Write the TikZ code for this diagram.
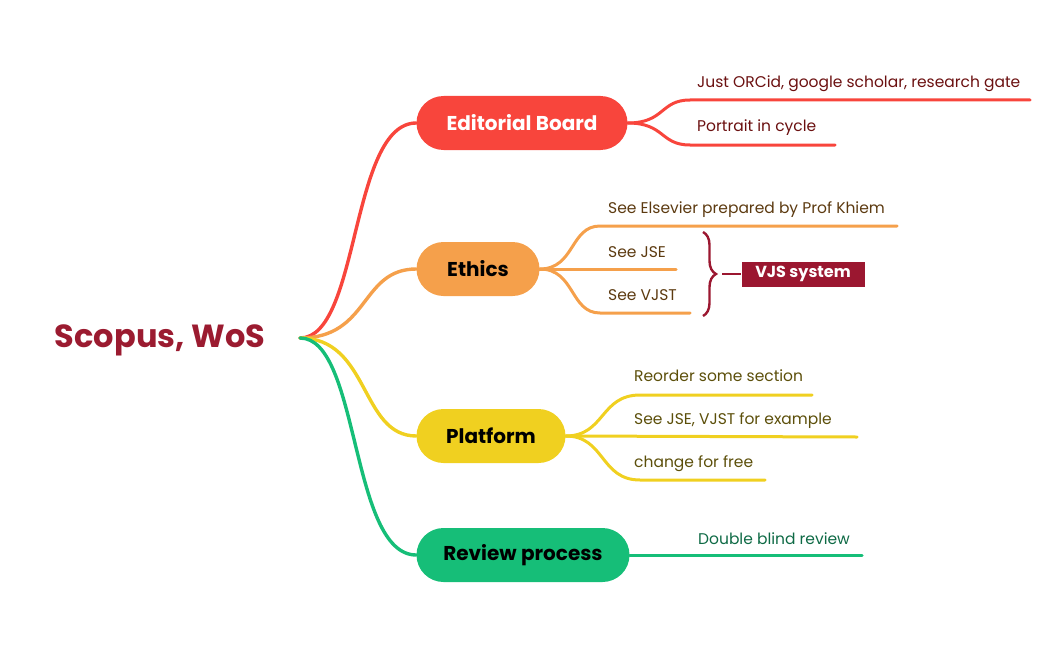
\documentclass[tikz,border=0pt]{standalone}
\usepackage{fontspec}
\setmainfont{Poppins}
\usetikzlibrary{decorations.pathreplacing}
\definecolor{rootc}{HTML}{9B1B30}
\definecolor{redc}{HTML}{F8453C}
\definecolor{orc}{HTML}{F5A04B}
\definecolor{yelc}{HTML}{F0D020}
\definecolor{grc}{HTML}{16BE78}
\definecolor{redt}{HTML}{6B1010}
\definecolor{ort}{HTML}{5C3A10}
\definecolor{yelt}{HTML}{5C4F0A}
\definecolor{grt}{HTML}{0E6A45}
\definecolor{vjs}{HTML}{9B1730}
\tikzset{
  pill/.style={rounded corners=27pt, minimum height=54pt, inner sep=0pt, font=\fontsize{20}{24}\selectfont\bfseries},
  branch/.style={line width=3.4pt, line cap=round},
  sub/.style={line width=3pt, line cap=round},
  leaf/.style={anchor=base west, inner sep=0pt, font=\fontsize{15.5}{18}\selectfont},
}
\begin{document}
\begin{tikzpicture}[x=1pt,y=-1pt]
\useasboundingbox (0,0) rectangle (1048,650);
% root
\node[text=rootc, font=\fontsize{32}{38}\selectfont\bfseries] (root) at (160,340) {Scopus, WoS};
\coordinate (r) at (300,338);
% main nodes
\node[pill, fill=redc, text=white, minimum width=211pt] (eb) at (522,123) {Editorial Board};
\node[pill, fill=orc, text=black, minimum width=123pt] (et) at (478,269) {Ethics};
\node[pill, fill=yelc, text=black, minimum width=149pt] (pf) at (491,436) {Platform};
\node[pill, fill=grc, text=black, minimum width=213pt] (rp) at (523,555) {Review process};
% branches
\draw[branch, redc] (r) .. controls (360,338) and (350,123) .. (eb.west);
\draw[branch, orc] (r) .. controls (370,338) and (360,269) .. (et.west);
\draw[branch, yelc] (r) .. controls (370,338) and (360,436) .. (pf.west);
\draw[branch, grc] (r) .. controls (360,338) and (350,555) .. (rp.west);
% editorial children
\coordinate (e1) at (690,100); \coordinate (e1e) at (1030,100);
\coordinate (e2) at (690,145); \coordinate (e2e) at (835,145);
\draw[sub, redc] (eb.east) .. controls (665,123) and (660,100) .. (e1) -- (e1e);
\draw[sub, redc] (eb.east) .. controls (665,123) and (660,145) .. (e2) -- (e2e);
\node[leaf, text=redt] (t1) at (697,88) {Just ORCid, google scholar, research gate};
\node[leaf, text=redt] (t2) at (697,131) {Portrait in cycle};
% ethics children
\coordinate (o1) at (600,226); \coordinate (o1e) at (897,226);
\coordinate (o2) at (600,269); \coordinate (o2e) at (676,269);
\coordinate (o3) at (600,313); \coordinate (o3e) at (690,313);
\draw[sub, orc] (et.east) .. controls (575,269) and (570,226) .. (o1) -- (o1e);
\draw[sub, orc] (et.east) -- (o2e);
\draw[sub, orc] (et.east) .. controls (575,269) and (570,313) .. (o3) -- (o3e);
\node[leaf, text=ort] (t3) at (608,213) {See Elsevier prepared by Prof Khiem};
\node[leaf, text=ort] (t4) at (608,257) {See JSE};
\node[leaf, text=ort] (t5) at (608,300) {See VJST};
\coordinate (b1) at (703,232); \coordinate (b2) at (703,316);
\draw[vjs, line width=2.4pt, decorate, decoration={brace, amplitude=13pt, aspect=0.5}] (b1) -- (b2);
\node[fill=vjs, text=white, font=\fontsize{16}{19}\selectfont\bfseries, minimum width=123pt, minimum height=25pt, inner sep=0pt] (vs) at (803,274) {VJS system};
\draw[vjs, line width=2.4pt] (722,274) -- (vs.west);
% platform children
\coordinate (p1) at (640,395); \coordinate (p1e) at (812,395);
\coordinate (p2) at (640,437); \coordinate (p2e) at (857,437);
\coordinate (p3) at (640,480); \coordinate (p3e) at (765,480);
\draw[sub, yelc] (pf.east) .. controls (605,436) and (600,395) .. (p1) -- (p1e);
\draw[sub, yelc] (pf.east) -- (p2e);
\draw[sub, yelc] (pf.east) .. controls (605,436) and (600,480) .. (p3) -- (p3e);
\node[leaf, text=yelt] (t6) at (634,381) {Reorder some section};
\node[leaf, text=yelt] (t7) at (634,424) {See JSE, VJST for example};
\node[leaf, text=yelt] (t8) at (634,467) {change for free};
% review child
\coordinate (g1e) at (862,555);
\draw[sub, grc] (rp.east) -- (g1e);
\node[leaf, text=grt] (t9) at (698,544) {Double blind review};
\end{tikzpicture}
\end{document}
